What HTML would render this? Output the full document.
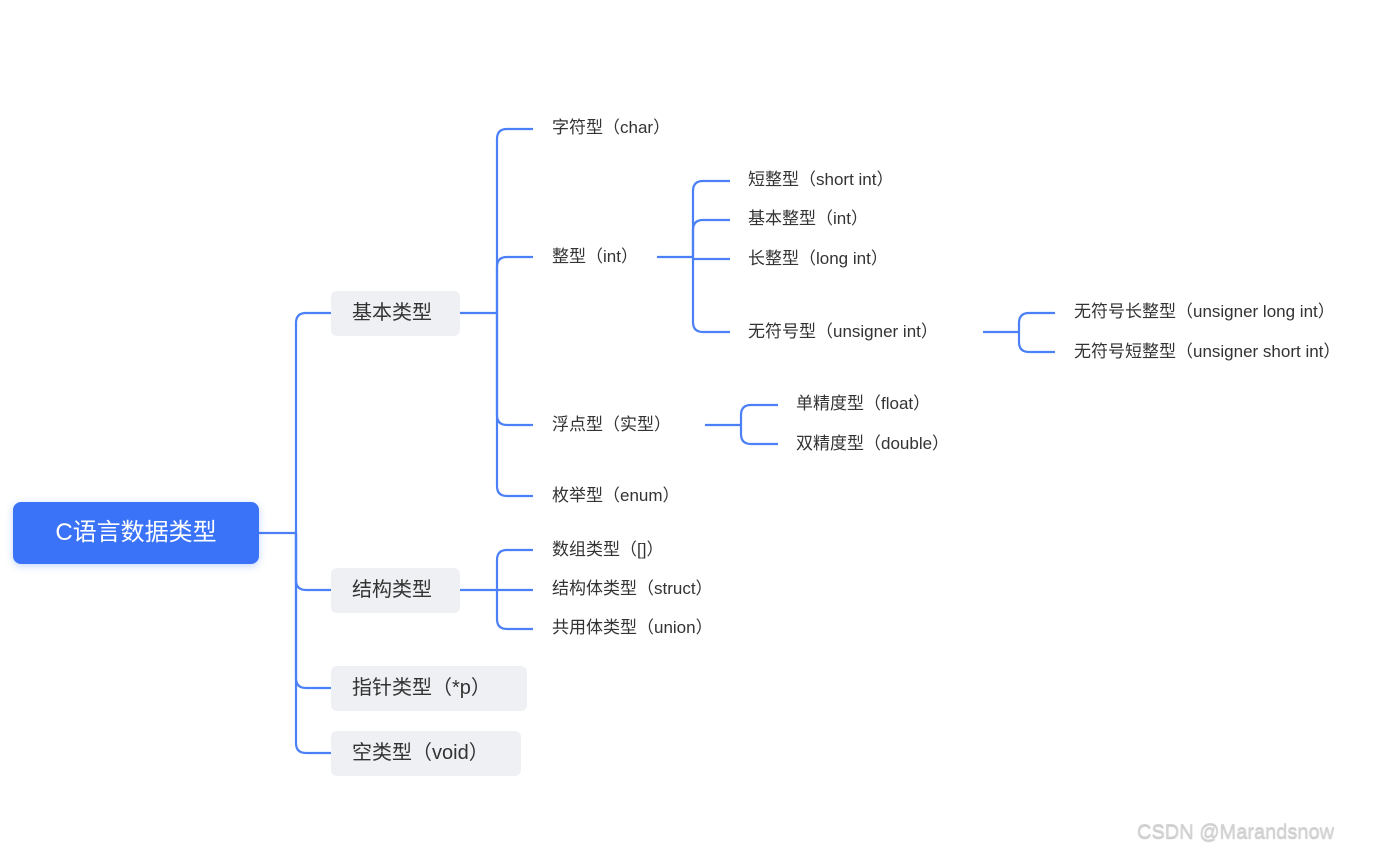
<!DOCTYPE html>
<html><head><meta charset="utf-8"><style>
html,body{margin:0;padding:0;background:#fff;}
body{width:1392px;height:857px;position:relative;overflow:hidden;font-family:"Liberation Sans","Noto Sans CJK SC",sans-serif;}
.t{position:absolute;font-size:17px;color:#333;white-space:nowrap;line-height:20px;}
.b{position:absolute;background:#eef0f3;border-radius:6px;font-size:20px;color:#333;line-height:44px;padding-left:21px;box-sizing:border-box;}
</style></head><body>
<svg width="1392" height="857" style="position:absolute;left:0;top:0" fill="none" stroke="#4c80f6" stroke-width="2.2">
<path d="M259 533H296"/>
<path d="M296 533V323Q296 313 306 313H331"/>
<path d="M296 533V580Q296 590 306 590H331"/>
<path d="M296 533V678Q296 688 306 688H331"/>
<path d="M296 533V743Q296 753 306 753H331"/>
<path d="M460 313H497"/>
<path d="M497 313V139Q497 129 507 129H533"/>
<path d="M497 313V267Q497 257 507 257H533"/>
<path d="M497 313V415Q497 425 507 425H533"/>
<path d="M497 313V486Q497 496 507 496H533"/>
<path d="M657 257H693"/>
<path d="M693 257V191Q693 181 703 181H730"/>
<path d="M693 257V230Q693 220 703 220H730"/>
<path d="M693 259H730"/>
<path d="M693 257V322Q693 332 703 332H730"/>
<path d="M983 332H1019"/>
<path d="M1019 332V323Q1019 313 1029 313H1055"/>
<path d="M1019 332V342Q1019 352 1029 352H1055"/>
<path d="M705 425H741"/>
<path d="M741 425V415Q741 405 751 405H778"/>
<path d="M741 425V434Q741 444 751 444H778"/>
<path d="M460 590H497"/>
<path d="M497 590V560Q497 550 507 550H533"/>
<path d="M497 590H533"/>
<path d="M497 590V619Q497 629 507 629H533"/>
</svg>
<div style="position:absolute;left:13px;top:502px;width:246px;height:62px;background:#3a73f8;border-radius:8px;box-shadow:0 2px 8px rgba(58,115,248,0.3);color:#fff;font-size:24px;line-height:62px;text-align:center;">C语言数据类型</div>
<div class="b" style="left:331px;top:291px;width:129px;height:45px;">基本类型</div>
<div class="b" style="left:331px;top:568px;width:129px;height:45px;">结构类型</div>
<div class="b" style="left:331px;top:666px;width:196px;height:45px;">指针类型（*p）</div>
<div class="b" style="left:331px;top:731px;width:190px;height:45px;">空类型（void）</div>
<div class="t" style="left:552px;top:118px;">字符型（char）</div>
<div class="t" style="left:552px;top:247px;">整型（int）</div>
<div class="t" style="left:552px;top:415px;">浮点型（实型）</div>
<div class="t" style="left:552px;top:486px;">枚举型（enum）</div>
<div class="t" style="left:748px;top:170px;">短整型（short int）</div>
<div class="t" style="left:748px;top:209px;">基本整型（int）</div>
<div class="t" style="left:748px;top:249px;">长整型（long int）</div>
<div class="t" style="left:748px;top:322px;">无符号型（unsigner int）</div>
<div class="t" style="left:1074px;top:302px;">无符号长整型（unsigner long int）</div>
<div class="t" style="left:1074px;top:342px;">无符号短整型（unsigner short int）</div>
<div class="t" style="left:796px;top:394px;">单精度型（float）</div>
<div class="t" style="left:796px;top:434px;">双精度型（double）</div>
<div class="t" style="left:552px;top:540px;">数组类型（[]）</div>
<div class="t" style="left:552px;top:579px;">结构体类型（struct）</div>
<div class="t" style="left:552px;top:618px;">共用体类型（union）</div>
<div style="position:absolute;left:1137px;top:821px;font-size:20px;color:#d4d4d4;text-shadow:0 1px 1px #bbb;white-space:nowrap;">CSDN @Marandsnow</div>
</body></html>
